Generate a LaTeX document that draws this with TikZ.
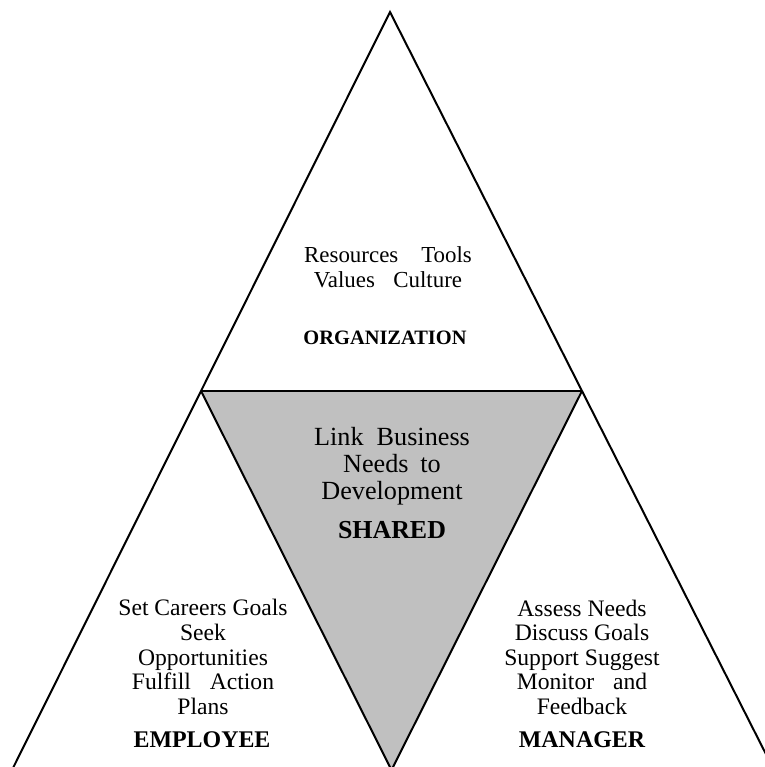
\documentclass[tikz,border=0pt]{standalone}
\usepackage{fontspec}
\setmainfont{Liberation Serif}
\definecolor{sharedgray}{RGB}{192,192,192}
\tikzset{
  edge/.style={draw=black, line width=2bp, line join=miter},
  label/.style={align=center, inner sep=0pt, text=black},
  ttl/.style={font=\bfseries}
}
\begin{document}
\begin{tikzpicture}[x=1bp, y=-1bp]
\useasboundingbox (0,0) rectangle (765,767);
\begin{scope}
\clip (0,0) rectangle (765,767);
\coordinate (apex) at (390,12);
\coordinate (L) at (201,391);
\coordinate (R) at (582,391);
\coordinate (BL) at (12,770);
\coordinate (BR) at (774,770);
\coordinate (BM) at (391.5,770);
\fill[sharedgray] (L) -- (R) -- (BM) -- cycle;
\draw[edge] (BL) -- (apex) -- (BR);
\draw[edge] (L) -- (R);
\draw[edge] (L) -- (BM) -- (R);
\end{scope}
% Organization
\node[label, font=\fontsize{23}{25}\selectfont] (orgtext) at (388,267)
  {Resources\hspace{1.0em}Tools\\Values\hspace{0.8em}Culture};
\node[label, font=\fontsize{20.5}{22}\selectfont\bfseries] (org) at (385,338) {ORGANIZATION};
% Shared
\node[label, font=\fontsize{26.3}{27}\selectfont] (shtext) at (392,466)
  {Link\hspace{0.5em}Business\\Needs\hspace{0.45em}to\\Development};
\node[label, font=\fontsize{26}{27}\selectfont\bfseries] (sh) at (392,530) {SHARED};
% Employee
\node[label, font=\fontsize{23.7}{24.7}\selectfont] (emptext) at (203,657)
  {Set Careers Goals\\Seek\\Opportunities\\Fulfill\hspace{0.8em}Action\\Plans};
\node[label, font=\fontsize{24}{25}\selectfont\bfseries] (emp) at (202,740) {EMPLOYEE};
% Manager
\node[label, font=\fontsize{23.7}{24.6}\selectfont] (mgrtext) at (582,657)
  {Assess Needs\\Discuss Goals\\Support Suggest\\Monitor\hspace{0.8em}and\\Feedback};
\node[label, font=\fontsize{24}{25}\selectfont\bfseries] (mgr) at (582,740) {MANAGER};
\end{tikzpicture}
\end{document}
